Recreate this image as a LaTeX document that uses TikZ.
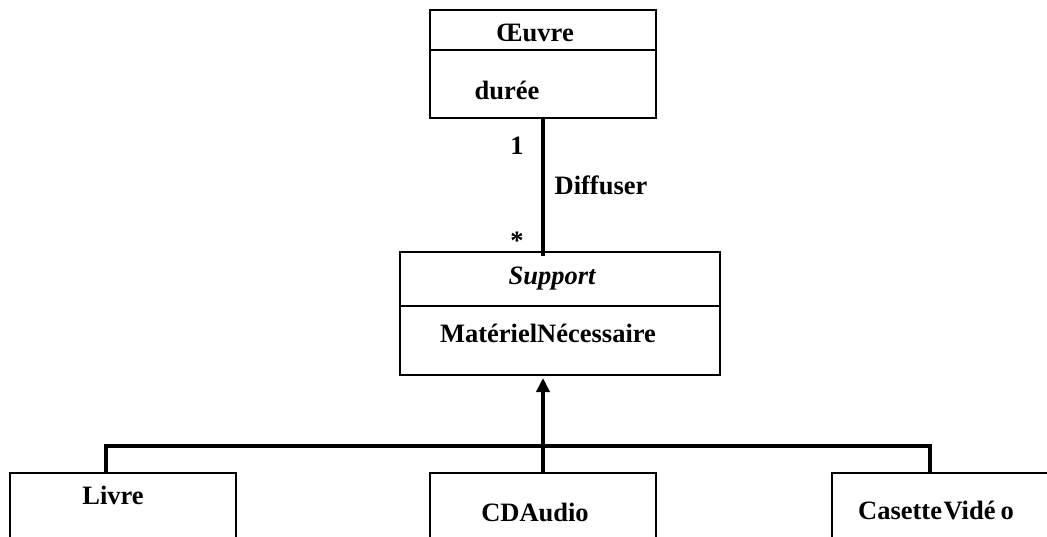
\documentclass[tikz,border=0pt]{standalone}
\usepackage{fontspec}
\setmainfont{Liberation Serif}
\usetikzlibrary{arrows.meta}
\begin{document}
\begin{tikzpicture}[x=1pt,y=-1pt,
  classbox/.style={draw, line width=2pt, inner sep=0pt, outer sep=0pt},
  lbl/.style={anchor=base, inner sep=0pt, font=\fontsize{26.5}{30}\selectfont\bfseries},
  link/.style={line width=4pt},
  divider/.style={line width=2pt}]
\useasboundingbox (0,0) rectangle (1047,537);
\clip (0,0) rectangle (1047,537);
% classes
\node[classbox, minimum width=226pt, minimum height=108pt] (oeuvre) at (543,64) {};
\node[classbox, minimum width=320pt, minimum height=123pt] (support) at (560,313.5) {};
\node[classbox, minimum width=226pt, minimum height=127pt] (livre) at (123,536.5) {};
\node[classbox, minimum width=226pt, minimum height=127pt] (cd) at (543,536.5) {};
\node[classbox, minimum width=226pt, minimum height=127pt] (casette) at (945,536.5) {};
% compartment dividers
\coordinate (od) at (0,50);
\coordinate (sd) at (0,306);
\draw[divider] (oeuvre.west |- od) -- (oeuvre.east |- od);
\draw[divider] (support.west |- sd) -- (support.east |- sd);
% texts
\node[lbl] (toeuvre) at (535,42) {Œuvre};
\node[lbl] (tduree) at (507,100) {durée};
\node[lbl, font=\fontsize{26.5}{30}\selectfont\bfseries\itshape] (tsupport) at (552,285) {Support};
\node[lbl] (tmat) at (548,342) {MatérielNécessaire};
\node[lbl] (tlivre) at (113,504) {Livre};
\node[lbl] (tcd) at (535,521) {CDAudio};
\node[lbl] (tcas) at (936,519) {Casette\kern1.5pt Vidé\kern5pt o};
% association
\draw[link, shorten >=-4pt] (oeuvre.south) -- (oeuvre.south |- support.north);
\node[lbl] (mult1) at (517,155) {1};
\node[lbl] (assocname) at (601,195) {Diffuser};
\node[lbl] (multn) at (517,250) {*};
% generalization
\coordinate (hl) at (106,446);
\coordinate (hr) at (930,446);
\draw[link, line width=3.5pt] (livre.north -| hl) -- (hl) -- (hr) -- (casette.north -| hr);
\draw[link, shorten >=3pt, -{Triangle[length=14pt,width=13pt]}] (cd.north) -- (cd.north |- support.south);
\end{tikzpicture}
\end{document}
